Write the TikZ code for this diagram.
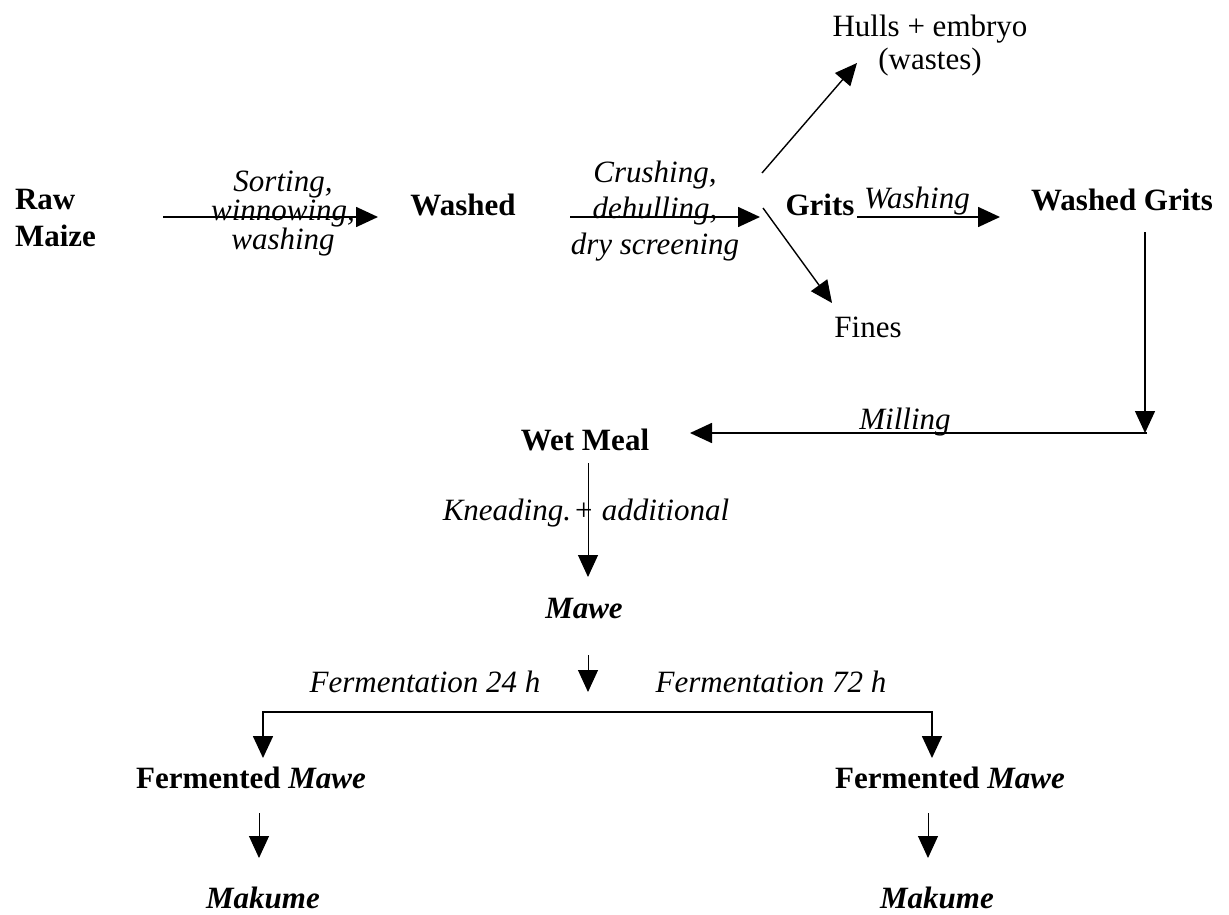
\documentclass[tikz,border=0pt]{standalone}
\usepackage{fontspec}
\setmainfont{Liberation Serif}
\usetikzlibrary{arrows.meta}
\begin{document}
\begin{tikzpicture}[x=1pt,y=-1pt,
  txt/.style={inner sep=0pt, outer sep=0pt, font=\fontsize{31}{33}\selectfont},
  bld/.style={inner sep=0pt, outer sep=0pt, font=\fontsize{31}{37}\selectfont\bfseries},
  bit/.style={inner sep=0pt, outer sep=0pt, font=\fontsize{31}{37}\selectfont\bfseries\itshape},
  lbl/.style={inner sep=0pt, outer sep=0pt, font=\fontsize{31}{33}\selectfont\itshape},
  arr/.style={-{Triangle[length=22pt,width=20pt]}, line width=1.7pt},
  arrthin/.style={-{Triangle[length=22pt,width=20pt]}, line width=1pt},
]
\useasboundingbox[fill=white] (0,0) rectangle (1229,915);

% nodes
\node[bld, align=left, anchor=west] (raw) at (15,218.5) {Raw\\Maize};
\node[bld, anchor=base] (washed) at (463,215) {Washed};
\node[bld, anchor=base] (grits) at (820,215) {Grits};
\node[bld, anchor=base] (wgrits) at (1122,210) {Washed Grits};
\node[txt, align=center] (hulls) at (930,46) {Hulls + embryo\\(wastes)};
\node[txt, anchor=base] (fines) at (868,337) {Fines};
\node[bld, anchor=base] (wetmeal) at (585,450) {Wet Meal};
\node[bit, anchor=base] (mawe) at (584,618) {Mawe};
\node[bld, anchor=base] (fm1) at (251,788) {Fermented \textit{Mawe}};
\node[bld, anchor=base] (fm2) at (950,788) {Fermented \textit{Mawe}};
\node[bit, anchor=base] (mk1) at (263,908) {Makume};
\node[bit, anchor=base] (mk2) at (937,908) {Makume};

% labels
\node[lbl, align=center, font=\fontsize{31}{29}\selectfont\itshape] (l1) at (283,214) {Sorting,\\winnowing,\\washing};
\node[lbl, align=center, font=\fontsize{31}{36}\selectfont\itshape] (l2) at (655,211) {Crushing,\\dehulling,\\dry screening};
\node[lbl, anchor=base] (l3) at (917,208) {Washing};
\node[lbl, anchor=base] (l4) at (905,429) {Milling};
\node[lbl, anchor=base] (l5) at (586,520) {Kneading.\kern2pt+ additional};
\node[lbl, anchor=base] (l6) at (425,692) {Fermentation 24 h};
\node[lbl, anchor=base] (l7) at (771,692) {Fermentation 72 h};

% connector end points
\coordinate (a1s) at (163,217); \coordinate (a1e) at (378,217);
\coordinate (a2s) at (570,217); \coordinate (a2e) at (760,217);
\coordinate (u1s) at (762,173); \coordinate (u1e) at (857,63);
\coordinate (d1s) at (763,208); \coordinate (d1e) at (832,303);
\coordinate (w1s) at (857,217); \coordinate (w1e) at (1000,217);
\coordinate (v1s) at (1145,232); \coordinate (v1e) at (1145,433);
\coordinate (h1s) at (1147,433); \coordinate (h1e) at (690,433);
\coordinate (k1s) at (588,463); \coordinate (k1e) at (588,577);
\coordinate (m1s) at (588,655); \coordinate (m1e) at (588,692);
\coordinate (t1) at (263,758); \coordinate (c1) at (263,712);
\coordinate (c2) at (932,712); \coordinate (t2) at (932,758);
\coordinate (f1s) at (259,813); \coordinate (f1e) at (259,858);
\coordinate (f2s) at (928,813); \coordinate (f2e) at (928,858);

% connectors
\draw[arr] (a1s) -- (a1e);
\draw[arr] (a2s) -- (a2e);
\draw[arr, line width=1.4pt] (u1s) -- (u1e);
\draw[arr, line width=1.4pt] (d1s) -- (d1e);
\draw[arr] (w1s) -- (w1e);
\draw[arr, line width=1.4pt] (v1s) -- (v1e);
\draw[arr] (h1s) -- (h1e);
\draw[arrthin] (k1s) -- (k1e);
\draw[arrthin] (m1s) -- (m1e);
\draw[{Triangle[length=22pt,width=20pt]}-{Triangle[length=22pt,width=20pt]}, line width=1.7pt] (t1) -- (c1) -- (c2) -- (t2);
\draw[arrthin] (f1s) -- (f1e);
\draw[arrthin] (f2s) -- (f2e);
\end{tikzpicture}
\end{document}
